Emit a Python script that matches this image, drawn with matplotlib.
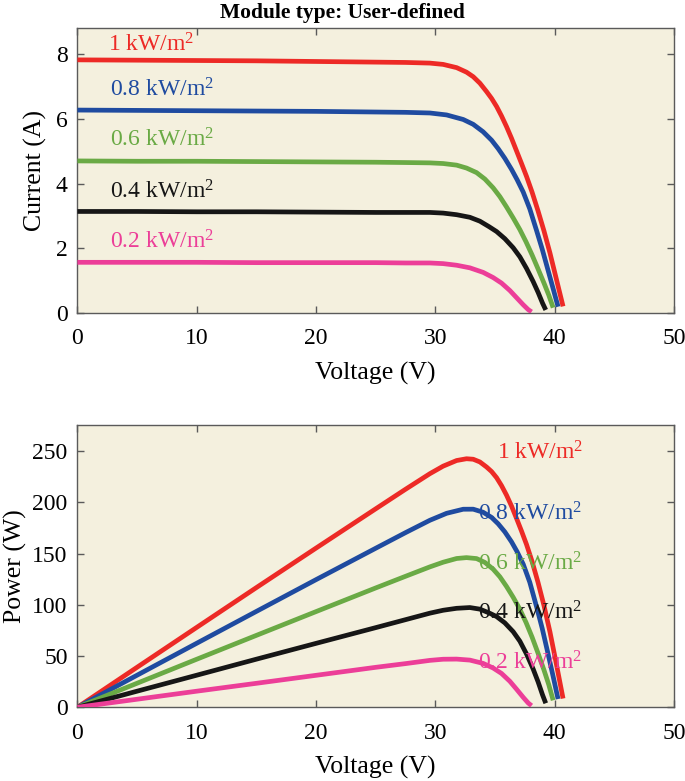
import matplotlib
matplotlib.use("Agg")
import matplotlib.pyplot as plt
import numpy as np

plt.rcParams['font.family'] = ['Liberation Serif', 'DejaVu Serif']
plt.rcParams['mathtext.fontset'] = 'custom'
plt.rcParams['mathtext.rm'] = 'Liberation Serif'
plt.rcParams['mathtext.it'] = 'Liberation Serif:italic'
plt.rcParams['mathtext.bf'] = 'Liberation Serif:bold'

# ---- data (voltage V, current A) ----
labels = ['1 kW/m$^{2}$', '0.8 kW/m$^{2}$', '0.6 kW/m$^{2}$', '0.4 kW/m$^{2}$', '0.2 kW/m$^{2}$']
colors = ['#ED2A26', '#1F4BA0', '#6AAA45', '#161616', '#EC3E98']

v_1000 = [0, 5, 10, 15, 20, 25, 27.5, 29.54, 30.65, 31.78, 32.61, 33.17, 33.73, 34.29, 34.71,
          35.13, 35.54, 35.96, 36.38, 36.80, 37.22, 37.64, 38.1, 38.6, 39.1, 39.6, 40.1, 40.7]
i_1000 = [7.82, 7.81, 7.80, 7.79, 7.77, 7.75, 7.74, 7.72, 7.68, 7.58, 7.44, 7.30, 7.10, 6.84, 6.63,
          6.38, 6.09, 5.76, 5.40, 5.01, 4.62, 4.22, 3.74, 3.16, 2.54, 1.86, 1.11, 0.21]

v_800 = [0, 5, 10, 15, 20, 25, 27.5, 29.54, 30.94, 32.33, 33.17, 34.0, 34.71, 35.26, 35.82,
         36.38, 36.85, 37.36, 37.91, 38.48, 38.95, 39.4, 39.85, 40.28]
i_800 = [6.27, 6.26, 6.25, 6.24, 6.23, 6.21, 6.20, 6.18, 6.12, 5.98, 5.83, 5.60, 5.34, 5.08, 4.78,
         4.44, 4.12, 3.74, 3.22, 2.55, 1.98, 1.38, 0.78, 0.20]

v_600 = [0, 5, 10, 15, 20, 25, 27.5, 29.54, 30.65, 31.78, 32.61, 33.45, 34.15, 34.84, 35.40,
         35.96, 36.52, 37.08, 37.6, 38.1, 38.6, 39.1, 39.5, 39.87]
i_600 = [4.70, 4.69, 4.69, 4.68, 4.67, 4.66, 4.65, 4.64, 4.62, 4.57, 4.48, 4.34, 4.14, 3.87, 3.60,
         3.28, 2.94, 2.58, 2.20, 1.80, 1.37, 0.93, 0.56, 0.17]

v_400 = [0, 5, 10, 15, 20, 25, 27.5, 29.54, 30.65, 31.78, 32.89, 33.73, 34.5, 35.13, 35.82,
         36.52, 37.08, 37.64, 38.19, 38.61, 38.98, 39.25]
i_400 = [3.14, 3.14, 3.13, 3.13, 3.12, 3.11, 3.11, 3.11, 3.09, 3.04, 2.96, 2.84, 2.67, 2.52, 2.30,
         2.02, 1.74, 1.38, 0.98, 0.64, 0.31, 0.10]

v_200 = [0, 5, 10, 15, 20, 25, 27.5, 29.54, 30.65, 31.78, 32.89, 34.0, 34.84, 35.54, 36.24,
         36.80, 37.36, 37.78, 38.06]
i_200 = [1.57, 1.57, 1.57, 1.56, 1.56, 1.56, 1.55, 1.55, 1.53, 1.48, 1.40, 1.26, 1.10, 0.93, 0.70,
         0.48, 0.26, 0.11, 0.04]

voltages = [v_1000, v_800, v_600, v_400, v_200]
currents = [i_1000, i_800, i_600, i_400, i_200]

# label anchor positions (data coords)
iv_label_x = [2.6, 2.7, 2.7, 2.7, 2.7]
iv_label_y = [8.29, 6.89, 5.35, 3.74, 2.19]
pv_label_x = [35.2, 33.6, 33.6, 33.6, 33.6]
pv_label_y = [248, 189, 140, 92, 43]

face = '#F4F0DE'
frame = '#5a5a5a'
TFS = 17
LFS = 18.5

fig = plt.figure(figsize=(6.85, 7.81), dpi=100)
ax1 = fig.add_axes([0.113, 0.599, 0.871, 0.365])
ax2 = fig.add_axes([0.113, 0.0944, 0.871, 0.362])

for ax in (ax1, ax2):
    ax.set_facecolor(face)
    for s in ax.spines.values():
        s.set_color(frame)
        s.set_linewidth(1.0)
    ax.tick_params(direction='in', top=True, right=True, length=5, width=1.0,
                   color=frame, labelsize=TFS)
    ax.tick_params(axis='x', pad=11)
    ax.tick_params(axis='y', pad=7)
    ax.set_xlim(0, 50)
    ax.set_xticks([0, 10, 20, 30, 40, 50])
    ax.set_xlabel('Voltage (V)', fontsize=LFS, labelpad=9)

for v, i, c in zip(voltages, currents, colors):
    v = np.array(v)
    i = np.array(i)
    ax1.plot(v, i, color=c, lw=3.4, solid_capstyle='butt', solid_joinstyle='round', zorder=3)
    ax2.plot(v, v * i, color=c, lw=3.4, solid_capstyle='butt', solid_joinstyle='round', zorder=3)

for lab, c, x, y in zip(labels, colors, iv_label_x, iv_label_y):
    ax1.text(x, y, lab, color=c, fontsize=TFS, ha='left', va='center', zorder=4)
for lab, c, x, y in zip(labels, colors, pv_label_x, pv_label_y):
    ax2.text(x, y, lab, color=c, fontsize=TFS, ha='left', va='center', zorder=4)

ax1.set_ylim(0, 8.8)
ax1.set_yticks([0, 2, 4, 6, 8])
ax1.set_ylabel('Current (A)', fontsize=LFS, labelpad=6)

ax2.set_ylim(0, 276)
ax2.set_yticks([0, 50, 100, 150, 200, 250])
ax2.set_ylabel('Power (W)', fontsize=LFS, labelpad=4)

fig.text(0.5, 1 - 13 / 781, 'Module type: User-defined', fontsize=15.5, fontweight='bold',
         ha='center', va='center')

fig.savefig('out.png', dpi=100, facecolor='white')
